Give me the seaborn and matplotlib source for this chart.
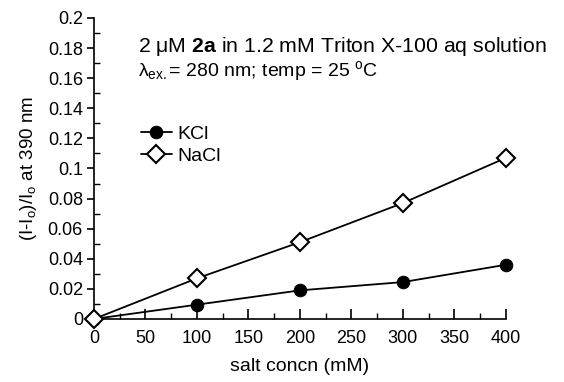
import matplotlib
matplotlib.use("Agg")
import matplotlib.pyplot as plt
import seaborn as sns
import pandas as pd
from matplotlib.ticker import MultipleLocator, FuncFormatter

salt_concn = [0, 100, 200, 300, 400]
kcl = [0.0, 0.0095, 0.019, 0.0245, 0.036]
nacl = [0.0, 0.027, 0.051, 0.077, 0.107]

sns.set_theme(style="ticks")
plt.rcParams['font.family'] = ['Liberation Sans', 'DejaVu Sans']
plt.rcParams['mathtext.fontset'] = 'custom'
plt.rcParams['mathtext.rm'] = 'Liberation Sans'
plt.rcParams['mathtext.it'] = 'Liberation Sans:italic'
plt.rcParams['mathtext.bf'] = 'Liberation Sans:bold'

df_k = pd.DataFrame({"x": salt_concn, "y": kcl})
df_n = pd.DataFrame({"x": salt_concn, "y": nacl})

fig = plt.figure(figsize=(5.64, 3.82), dpi=100)
ax = fig.add_axes([0.1667, 0.165, 0.730, 0.788])

sns.lineplot(data=df_k, x="x", y="y", ax=ax, color="black", lw=1.3,
             marker="o", markersize=9, markerfacecolor="black",
             markeredgecolor="black", label="KCl", clip_on=False, zorder=5)
sns.lineplot(data=df_n, x="x", y="y", ax=ax, color="black", lw=1.3,
             marker="D", markersize=9, markerfacecolor="white",
             markeredgecolor="black", markeredgewidth=1.5, label="NaCl",
             clip_on=False, zorder=6)

ax.set_xlim(0, 400)
ax.set_ylim(0, 0.2)
for s in ["top", "right"]:
    ax.spines[s].set_visible(False)
for s in ["left", "bottom"]:
    ax.spines[s].set_linewidth(1.2)
    ax.spines[s].set_color("black")
ax.xaxis.set_major_locator(MultipleLocator(50))
ax.xaxis.set_minor_locator(MultipleLocator(25))
ax.yaxis.set_major_locator(MultipleLocator(0.02))
ax.yaxis.set_minor_locator(MultipleLocator(0.01))
ax.yaxis.set_major_formatter(FuncFormatter(lambda v, p: "%g" % round(v, 3)))
ax.tick_params(axis="x", which="major", direction="in", length=7, width=1.2, labelsize=13, pad=8, color="black")
ax.tick_params(axis="x", which="minor", direction="in", length=4, width=1.0, color="black")
ax.tick_params(axis="y", which="major", direction="out", length=5, width=1.2, labelsize=13, pad=3, color="black")
ax.tick_params(axis="y", which="minor", direction="in", length=4, width=1.0, color="black")
for lbl in ax.get_xticklabels() + ax.get_yticklabels():
    lbl.set_color("black")

ax.set_xlabel("salt concn (mM)", fontsize=14, labelpad=8, color="black")
ax.set_ylabel(r"(I-I$_{\rm o}$)/I$_{\rm o}$ at 390 nm", fontsize=13.5, labelpad=6, color="black")

ax.text(0.107, 0.905, r"2 μM $\mathbf{2a}$ in 1.2 mM Triton X-100 aq solution",
        transform=ax.transAxes, fontsize=15.3, color="black", va="center")
ax.text(0.107, 0.825, r"λ$_{\rm ex.}$= 280 nm; temp = 25 $^{\rm o}$C",
        transform=ax.transAxes, fontsize=14, color="black", va="center")

leg = ax.legend(loc="upper left", bbox_to_anchor=(0.095, 0.67), frameon=False,
                fontsize=14, handlelength=1.6, handletextpad=0.3,
                labelspacing=0.25, borderaxespad=0)
for t in leg.get_texts():
    t.set_color("black")

fig.savefig("out.png", dpi=100)
